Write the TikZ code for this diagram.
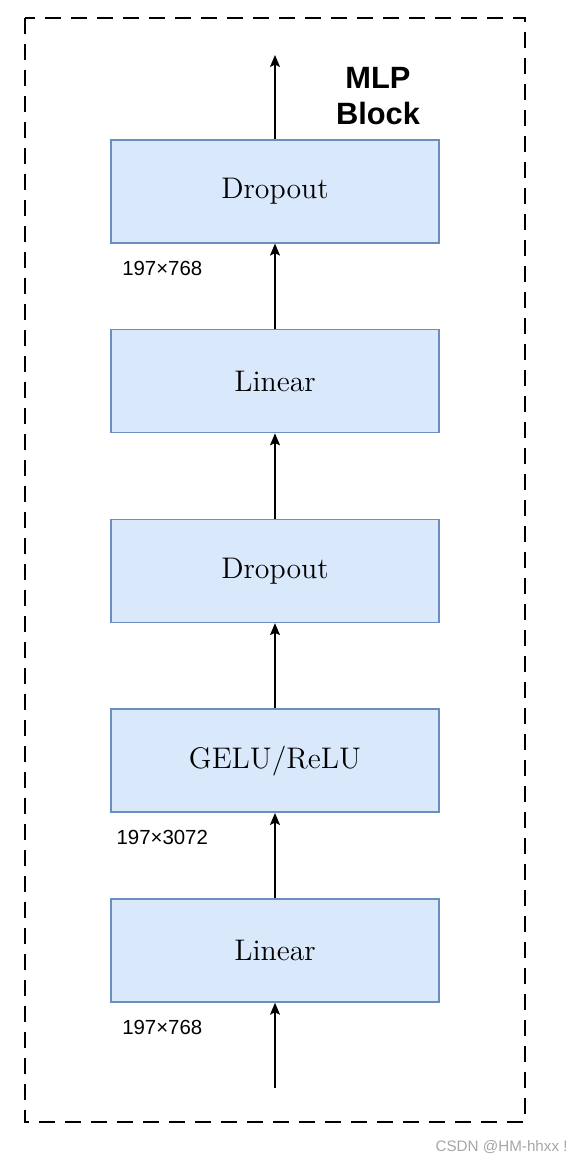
\documentclass[tikz,border=0pt]{standalone}
\usepackage{fontspec}
\newfontfamily\labelfont{Liberation Sans}
\usepackage{tikz}
\usetikzlibrary{arrows.meta, positioning}

\begin{document}
\begin{tikzpicture}[
    x=0.5pt, y=-0.5pt,
    node distance=42.65pt,
    layer/.style={rectangle, draw=blue!30!gray!80, line width=0.75pt, fill=blue!15!white,
                  minimum height=51.5pt, minimum width=164pt, text centered,
                  font=\fontsize{14.9}{17}\selectfont},
    dim/.style={font=\labelfont\fontsize{10.2}{12}\selectfont, inner sep=0pt},
    arrow/.style={-{Stealth[length=6pt, width=5pt, inset=1.2pt]}, line width=0.75pt, draw=black},
]
\definecolor{boxfill}{HTML}{DAE8FC}
\definecolor{boxline}{HTML}{6C8EBF}
\tikzset{layer/.append style={fill=boxfill, draw=boxline}}
\useasboundingbox (0,0) rectangle (580,1162);

% Outer frame
\draw[dashed, dash pattern=on 8pt off 5pt, line width=0.75pt] (25,18) rectangle (525,1122);

% Layers, bottom to top
\node[layer] (lin1) at (275,950.5) {Linear};
\node[layer, above=of lin1] (act) {GELU/ReLU};
\node[layer, above=of act] (drop1) {Dropout};
\node[layer, above=of drop1] (lin2) {Linear};
\node[layer, above=of lin2] (drop2) {Dropout};

% Input and output ends
\coordinate (in) at (275,1088);
\coordinate (out) at (275,55);

% Arrows
\draw[arrow] (in) -- (lin1);
\draw[arrow] (lin1) -- (act);
\draw[arrow] (act) -- (drop1);
\draw[arrow] (drop1) -- (lin2);
\draw[arrow] (lin2) -- (drop2);
\draw[arrow] (drop2) -- (out);

% Tensor shapes
\node[dim] (dimin) at ([xshift=26pt, yshift=-12.5pt]lin1.south west) {197×768};
\node[dim] (dimhid) at ([xshift=26pt, yshift=-12.5pt]act.south west) {197×3072};
\node[dim] (dimout) at ([xshift=26pt, yshift=-12.5pt]drop2.south west) {197×768};

% Title
\node[font=\labelfont\bfseries\fontsize{15.4}{18}\selectfont, align=center] (title) at (378,96) {MLP\\Block};

% Watermark
\node[font=\labelfont\fontsize{7.6}{9}\selectfont, text=gray!70, anchor=east, inner sep=0pt] (mark) at (568,1147) {CSDN @HM-hhxx !};
\end{tikzpicture}
\end{document}
